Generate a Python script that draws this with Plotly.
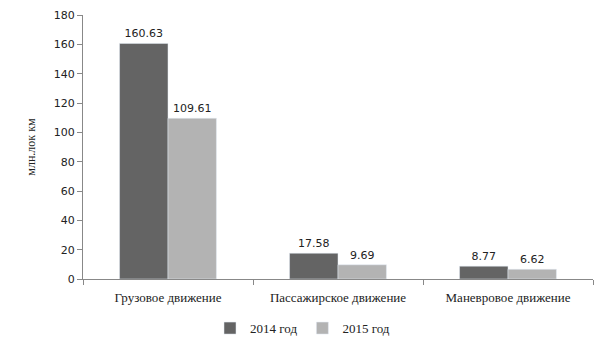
import plotly.graph_objects as go

categories = ["Грузовое движение", "Пассажирское движение", "Маневровое движение"]
series_2014 = [160.63, 17.58, 8.77]
series_2015 = [109.61, 9.69, 6.62]
series_names = ["2014 год", "2015 год"]
y_ticks = [0, 20, 40, 60, 80, 100, 120, 140, 160, 180]

fig = go.Figure()
for name, vals, col in [(series_names[0], series_2014, "#646464"),
                        (series_names[1], series_2015, "#b3b3b3")]:
    fig.add_trace(go.Bar(
        x=categories, y=vals, name=name, marker_color=col,
        text=[f"{v:.2f}" for v in vals], textposition="outside",
        textfont=dict(family="DejaVu Sans", size=11, color="#222"),
        cliponaxis=False,
    ))

fig.update_layout(
    width=605, height=340,
    margin=dict(l=83, r=12, t=15, b=61, autoexpand=False),
    paper_bgcolor="white", plot_bgcolor="white",
    barmode="group", bargap=0.43, bargroupgap=0,
    showlegend=True,
    legend=dict(orientation="h", x=0.5, xanchor="center", xref="container",
                y=0.035, yanchor="middle", yref="container",
                font=dict(family="Liberation Serif", size=13, color="#222"),
                traceorder="normal", itemwidth=30, tracegroupgap=0),
    xaxis=dict(showline=True, linecolor="#888", ticks="outside", tickson="boundaries",
               ticklen=5, tickcolor="#888", automargin=False, ticklabelstandoff=6,
               tickfont=dict(family="Liberation Serif", size=13, color="#222")),
    yaxis=dict(range=[0, 180], tickvals=y_ticks, showline=True, linecolor="#888",
               ticks="outside", ticklen=5, tickcolor="#888", showgrid=False, zeroline=False,
               automargin=False,
               tickfont=dict(family="DejaVu Sans", size=11, color="#222"),
               title=dict(text="млн.лок км", font=dict(family="Liberation Serif", size=12, color="#222"),
                          standoff=15)),
)

fig.write_html("out.html")
